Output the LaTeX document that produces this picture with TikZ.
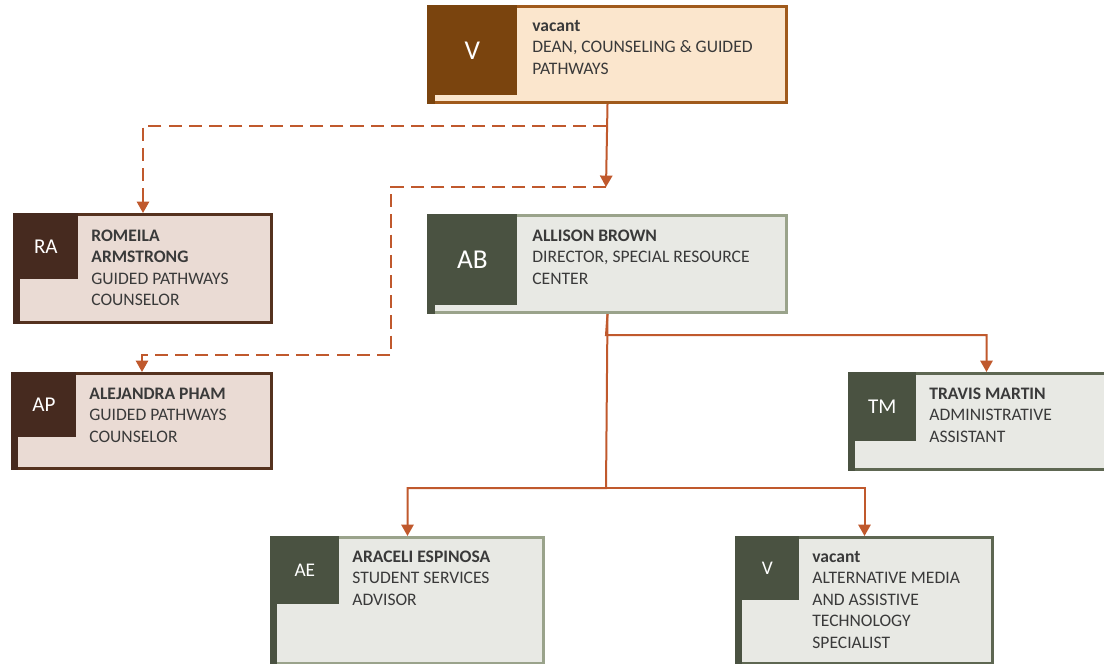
\documentclass[tikz,border=0pt]{standalone}
\usepackage{fontspec}
\setmainfont{Carlito}
\usetikzlibrary{arrows.meta}

\newlength\pxu
\setlength\pxu{0.02cm}

\definecolor{deandark}{HTML}{7A440E}
\definecolor{deanline}{HTML}{A05A1C}
\definecolor{deanfill}{HTML}{FBE6CD}
\definecolor{cnsldark}{HTML}{462A1F}
\definecolor{cnslline}{HTML}{55321F}
\definecolor{cnslfill}{HTML}{EADBD4}
\definecolor{sagedark}{HTML}{4A5241}
\definecolor{sageline}{HTML}{9AA38B}
\definecolor{sagemid}{HTML}{5E6752}
\definecolor{sagefill}{HTML}{E8E9E4}
\definecolor{linkc}{HTML}{C0592D}
\definecolor{txtgray}{HTML}{3A3A3A}

\tikzset{
	card/.style={rectangle, draw, line width=3\pxu, anchor=north west, inner sep=0pt},
	tag/.style={rectangle, anchor=north west, inner sep=0pt, text=white},
	info/.style={anchor=north west, align=left, inner sep=0pt, text=txtgray,
		font=\fontsize{10}{12.2}\selectfont, execute at begin node=\rule{0pt}{7pt}},
	bigini/.style={font=\fontsize{15.5}{18}\selectfont},
	midini/.style={font=\fontsize{12}{14}\selectfont},
	smallini/.style={font=\fontsize{11}{13}\selectfont},
	link/.style={draw=linkc, line width=2\pxu, -{Triangle[width=7pt,length=6.5pt]}},
	dashlink/.style={link, dash pattern=on 7.5pt off 4pt}
}

\begin{document}
\begin{tikzpicture}[x=0.02cm, y=-0.02cm]
	\useasboundingbox (0,0) rectangle (1104,663);

	% dean
	\node[card, draw=deanline, fill=deanfill, minimum width=358\pxu, minimum height=96\pxu] (dean) at (427,5) {};
	\fill[deandark] (dean.north west) rectangle ([xshift=8\pxu]dean.south west);
	\node[tag, fill=deandark, bigini, minimum width=90\pxu, minimum height=90\pxu] (deantag) at (dean.north west) {V};
	\node[info] (deantxt) at (532,19.7) {\textbf{vacant}\\DEAN, COUNSELING \& GUIDED\\PATHWAYS};

	% counselors
	\node[card, draw=cnslline, fill=cnslfill, minimum width=257\pxu, minimum height=108\pxu] (ra) at (13,213) {};
	\fill[cnsldark] (ra.north west) rectangle ([xshift=7\pxu]ra.south west);
	\node[tag, fill=cnsldark, midini, minimum width=65\pxu, minimum height=66\pxu] (ratag) at (ra.north west) {RA};
	\node[info] (ratxt) at (91,229.4) {\textbf{ROMEILA}\\\textbf{ARMSTRONG}\\GUIDED PATHWAYS\\COUNSELOR};

	\node[card, draw=cnslline, fill=cnslfill, minimum width=259\pxu, minimum height=95\pxu] (ap) at (11,372) {};
	\fill[cnsldark] (ap.north west) rectangle ([xshift=7\pxu]ap.south west);
	\node[tag, fill=cnsldark, midini, minimum width=65\pxu, minimum height=65\pxu] (aptag) at (ap.north west) {AP};
	\node[info] (aptxt) at (89,387.4) {\textbf{ALEJANDRA PHAM}\\GUIDED PATHWAYS\\COUNSELOR};

	% special resource center
	\node[card, draw=sageline, fill=sagefill, minimum width=358\pxu, minimum height=97\pxu] (ab) at (427,214) {};
	\fill[sagedark] (ab.north west) rectangle ([xshift=8\pxu]ab.south west);
	\node[tag, fill=sagedark, bigini, minimum width=90\pxu, minimum height=91\pxu] (abtag) at (ab.north west) {AB};
	\node[info] (abtxt) at (532,229.4) {\textbf{ALLISON BROWN}\\DIRECTOR, SPECIAL RESOURCE\\CENTER};

	\node[card, draw=sagemid, fill=sagefill, minimum width=274\pxu, minimum height=96\pxu] (tm) at (848,372) {};
	\fill[sagedark] (tm.north west) rectangle ([xshift=7\pxu]tm.south west);
	\node[tag, fill=sagedark, midini, minimum width=68\pxu, minimum height=69\pxu] (tmtag) at (tm.north west) {TM};
	\node[info] (tmtxt) at (929,387.4) {\textbf{TRAVIS MARTIN}\\ADMINISTRATIVE\\ASSISTANT};

	\node[card, draw=sageline, fill=sagefill, minimum width=272\pxu, minimum height=126\pxu] (ae) at (270,536) {};
	\fill[sagedark] (ae.north west) rectangle ([xshift=7\pxu]ae.south west);
	\node[tag, fill=sagedark, smallini, minimum width=69\pxu, minimum height=68\pxu] (aetag) at (ae.north west) {AE};
	\node[info] (aetxt) at (352,550.4) {\textbf{ARACELI ESPINOSA}\\STUDENT SERVICES\\ADVISOR};

	\node[card, draw=sagemid, fill=sagefill, minimum width=256\pxu, minimum height=126\pxu] (vb) at (735,536) {};
	\fill[sagedark] (vb.north west) rectangle ([xshift=7\pxu]vb.south west);
	\node[tag, fill=sagedark, smallini, minimum width=64\pxu, minimum height=64\pxu] (vbtag) at (vb.north west) {V};
	\node[info] (vbtxt) at (812,551) {\textbf{vacant}\\ALTERNATIVE MEDIA\\AND ASSISTIVE\\TECHNOLOGY\\SPECIALIST};

	% connectors
	\coordinate (split) at (606,126);
	\coordinate (hub) at (606,187);
	\coordinate (bend) at (391,355);
	\coordinate (abfork) at (606,335);
	\coordinate (abbus) at (606,488);

	\draw[link] (dean.south) -- (hub);
	\draw[dashlink] (split) -| (ra.north);
	\draw[dashlink] (hub) -| (bend) -| (ap.north);
	\draw[link] (ab.south) -- (abfork) -| (tm.north);
	\draw[link] (ab.south) -- (abbus) -| (ae.north);
	\draw[link] (abbus) -| (vb.north);

\end{tikzpicture}
\end{document}
